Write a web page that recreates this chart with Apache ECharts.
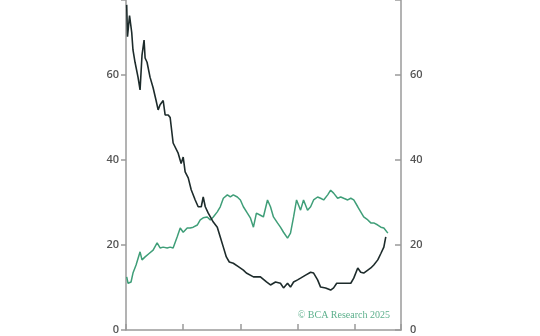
<!DOCTYPE html>
<html><head><meta charset="utf-8">
<script src="https://cdn.jsdelivr.net/npm/echarts@6/dist/echarts.min.js"></script>
<style>html,body{margin:0;padding:0;background:#fff}#c{width:540px;height:336px}</style>
</head><body><div id="c"></div>
<script>
// time in years since start of sample
const blackT = [0.06,0.13,0.31,0.5,0.61,0.79,1.05,1.23,1.4,1.58,1.67,1.84,2.1,2.37,2.63,2.81,2.98,3.25,3.42,3.69,3.86,4.12,4.56,4.82,5.0,5.17,5.44,5.7,6.05,6.31,6.58,6.75,6.93,7.19,7.63,7.98,8.24,8.51,8.77,9.03,9.38,9.82,10.26,10.52,11.14,11.75,12.28,12.63,13.07,13.5,13.77,14.12,14.38,14.65,15.0,15.26,15.7,16.14,16.4,16.75,17.01,17.45,17.89,18.15,18.42,19.03,19.65,19.91,20.26,20.52,20.78,21.14,21.4,21.66,22.01,22.28,22.54,22.71];
const blackV = [76.5,69,74,70,65.9,63,59.5,56.5,64.7,68.2,64,63,59.5,57,54,51.8,53,54,50.6,50.6,50,44,41.6,39.2,40.7,37.2,35.8,33,30.6,29,29,31.3,29,27.5,25.4,24.2,21.9,19.5,17.2,16,15.7,14.9,14.1,13.4,12.5,12.5,11.3,10.6,11.3,11,9.9,11,10.1,11.3,11.8,12.2,12.9,13.6,13.4,11.8,10.1,9.9,9.4,9.9,11,11,11,12.2,14.6,13.6,13.4,14.1,14.6,15.3,16.5,18,19.5,21.9];
const greenT = [0.06,0.18,0.44,0.61,0.88,1.23,1.4,1.67,2.02,2.37,2.72,2.98,3.25,3.6,3.86,4.12,4.47,4.74,5.0,5.35,5.61,5.88,6.23,6.49,6.75,7.1,7.37,7.63,7.98,8.24,8.51,8.86,9.12,9.38,9.73,10.0,10.26,10.61,10.87,11.14,11.4,11.75,12.01,12.37,12.63,12.89,13.24,13.5,13.77,14.12,14.38,14.65,14.91,15.26,15.52,15.87,16.14,16.4,16.75,17.01,17.28,17.63,17.89,18.15,18.5,18.77,19.03,19.38,19.65,19.91,20.26,20.52,20.78,21.14,21.4,21.66,22.01,22.28,22.54,22.89];
const greenV = [12.5,11,11.3,13.4,15.3,18.4,16.5,17.2,18,18.8,20.5,19.3,19.5,19.3,19.5,19.3,21.9,24,23,24,24,24.2,24.7,25.9,26.4,26.6,25.9,26.6,27.8,29,31,31.8,31.3,31.8,31.3,30.6,29,27.5,26.4,24.2,27.5,27,26.6,30.6,29,26.6,25.2,24.2,23,21.6,22.8,26.6,30.6,28.2,30.6,28.2,29,30.6,31.3,31,30.6,31.8,32.9,32.2,31,31.3,31,30.6,31,30.6,29,27.8,26.6,25.9,25.2,25.2,24.7,24.2,24,22.8];
const yTicks = [0,20,40,60];
const credit = '© BCA Research 2025';

const zip = (t, v) => t.map((x, i) => [x, v[i]]);
const axisCol = '#9a9a9a';
const labelStyle = {color:'#555', fontSize:11, fontWeight:600, fontFamily:'Open Sans'};
const chart = echarts.init(document.getElementById('c'), null, {renderer:'canvas'});
chart.setOption({
  animation:false,
  grid:{left:126, right:139, top:0, bottom:6},
  xAxis:{type:'value', min:0, max:24.04, interval:5,
    axisLine:{lineStyle:{color:axisCol, width:1.5}},
    axisTick:{show:true, inside:true, length:6, lineStyle:{color:axisCol, width:1.5}},
    axisLabel:{show:false}, splitLine:{show:false}},
  yAxis:[
    {type:'value', min:0, max:77.65, interval:20, position:'left',
     axisLine:{show:true, lineStyle:{color:axisCol, width:1.5}},
     axisTick:{show:true, inside:false, length:5, lineStyle:{color:axisCol, width:1.5}},
     axisLabel:Object.assign({margin:7, formatter:v => yTicks.includes(v) ? String(v) : ''}, labelStyle),
     splitLine:{show:false}},
    {type:'value', min:0, max:77.65, interval:20, position:'right',
     axisLine:{show:true, lineStyle:{color:axisCol, width:1.5}},
     axisTick:{show:true, inside:true, length:6, lineStyle:{color:axisCol, width:1.5}},
     axisLabel:Object.assign({margin:9, formatter:v => yTicks.includes(v) ? String(v) : ''}, labelStyle),
     splitLine:{show:false}}
  ],
  series:[
    {type:'line', data:zip(greenT, greenV), showSymbol:false, lineStyle:{color:'#3f9e78', width:1.5}, z:2},
    {type:'line', data:zip(blackT, blackV), showSymbol:false, lineStyle:{color:'#1d2b2b', width:1.6}, z:3}
  ],
  graphic:[{type:'text', right:150, top:310, style:{text:credit, fill:'#5cb08c', fontSize:10, fontFamily:'Liberation Serif'}}]
});
</script></body></html>
